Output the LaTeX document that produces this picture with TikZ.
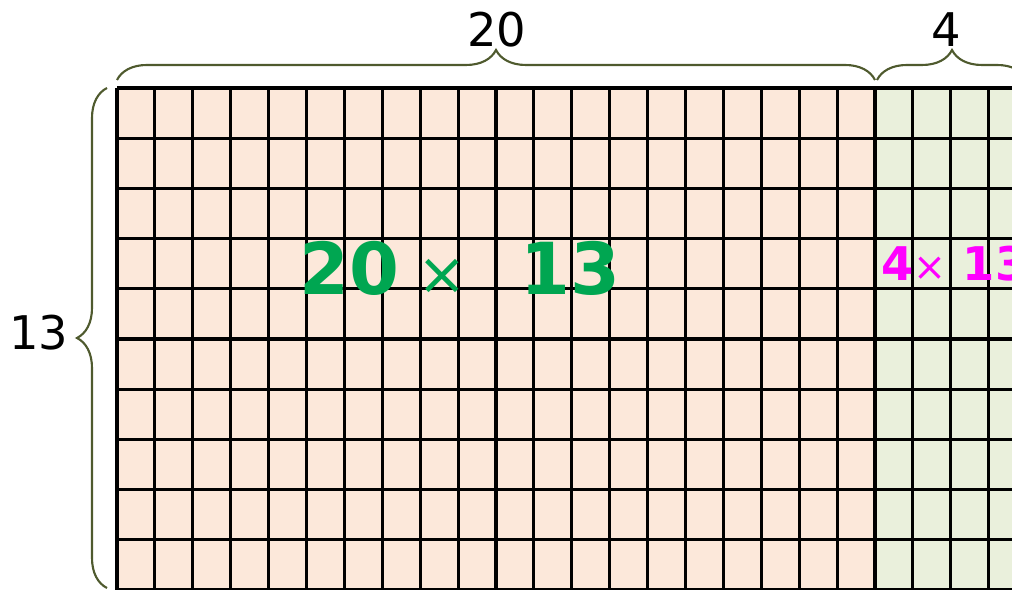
\documentclass[tikz,border=0pt]{standalone}
\usepackage{fontspec}
\setmainfont{DejaVu Sans}
\usetikzlibrary{decorations.pathreplacing,calc}
\definecolor{peachfill}{RGB}{252,232,218}
\definecolor{sagefill}{RGB}{234,240,220}
\definecolor{bracegreen}{RGB}{79,90,46}
\definecolor{titlegreen}{RGB}{0,166,81}
\definecolor{tagmagenta}{RGB}{255,0,255}

\begin{document}
\begin{tikzpicture}[x=0.025cm, y=0.025cm,
    cellline/.style={black, line width=2.2pt},
    bracket/.style={draw=bracegreen, line width=1.5pt, decorate,
        decoration={brace, amplitude=0.75cm}},
    countlabel/.style={anchor=base, font=\fontsize{33}{36}\selectfont}]
    \useasboundingbox (0,0) rectangle (1012,590);
    \clip (0,0) rectangle (1012,590);

    % the two blocks of cells
    \fill[peachfill] (117,0) rectangle (875,502);
    \fill[sagefill] (875,0) rectangle (1040,502);
    \foreach \i in {0,...,24}
        \draw[cellline] ({117+37.9*\i},0) -- ({117+37.9*\i},502);
    \foreach \j in {0,...,10}
        \draw[cellline] (117,{50.2*\j}) -- (1040,{50.2*\j});
    \draw[black, line width=3pt] (875,0) -- (875,502);

    % braces
    \draw[bracket] (117,510) -- (875,510);
    \draw[bracket] (877,510) -- (1027,510);
    \draw[bracket] (107,2) -- (107,502);
    \node[countlabel] (widthA) at (497,543) {20};
    \node[countlabel] (widthB) at (946,543) {4};
    \node[countlabel] (height) at (39,240) {13};

    % block sizes
    \node[anchor=base, text=titlegreen, font=\fontsize{51}{54}\selectfont\bfseries] (sizeA) at (460,295)
        {20\hspace{0.25em}{\mdseries\fontsize{42}{46}\selectfont ×}\hspace{0.75em}13};
    \node[anchor=base west, inner sep=0pt, text=tagmagenta, font=\fontsize{33}{36}\selectfont\bfseries] (sizeB) at (881,309)
        {4{\mdseries\fontsize{28}{30}\selectfont ×}\hspace{0.35em}13};
\end{tikzpicture}
\end{document}
